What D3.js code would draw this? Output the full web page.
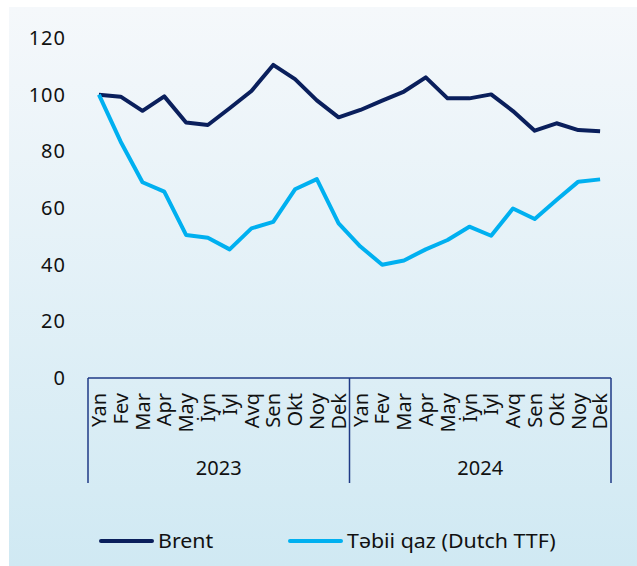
<!DOCTYPE html>
<html>
<head>
<meta charset="utf-8">
<script src="https://cdn.jsdelivr.net/npm/d3@7"></script>
<style>
  html, body { margin: 0; padding: 0; background: #fff; }
  svg { display: block; font-family: "Noto Sans", "Open Sans", sans-serif; }
</style>
</head>
<body>
<svg id="chart" width="637" height="566"></svg>
<script>
// data
var months = ["Yan","Fev","Mar","Apr","May","İyn","İyl","Avq","Sen","Okt","Noy","Dek"];
var years = ["2023", "2024"];
var brent = [100, 99.3, 94.3, 99.4, 90.2, 89.3, 95.2, 101.3, 110.5, 105.5, 98, 92,
             94.6, 97.9, 101.1, 106.1, 98.7, 98.7, 100.1, 94.2, 87.3, 89.9, 87.5, 87.1];
var ttf = [100, 83.4, 69.1, 65.8, 50.5, 49.5, 45.4, 52.8, 55.1, 66.6, 70.2, 54.6,
           46.4, 40.0, 41.5, 45.4, 48.7, 53.4, 50.2, 59.8, 56.1, 62.8, 69.3, 70.1];
var yTicks = [0, 20, 40, 60, 80, 100, 120];
var seriesNames = ["Brent", "Təbii qaz (Dutch TTF)"];
var colors = ["#0a1f5c", "#00b0f0"];

var svg = d3.select("#chart");
var fontSize = 20;

// panel background
var defs = svg.append("defs");
var grad = defs.append("linearGradient").attr("id", "bg")
    .attr("x1", 0).attr("y1", 0).attr("x2", 0).attr("y2", 1);
grad.append("stop").attr("offset", "0%").attr("stop-color", "#f5f8fb");
grad.append("stop").attr("offset", "100%").attr("stop-color", "#d0e9f3");
svg.append("rect").attr("x", 9).attr("y", 7).attr("width", 628).attr("height", 559)
    .attr("fill", "url(#bg)");

// categories: year + month
var cats = [];
years.forEach(function(y){ months.forEach(function(m){ cats.push(y + "-" + m); }); });

var x = d3.scaleBand().domain(cats).range([88, 611]);
var y = d3.scaleLinear().domain([0, 120]).range([378, 38]);
var cx = function(i){ return x(cats[i]) + x.bandwidth() / 2; };

// y axis labels
var yAxis = svg.append("g").attr("transform", "translate(66,0)")
    .call(d3.axisLeft(y).tickValues(yTicks).tickSize(0).tickPadding(0));
yAxis.select(".domain").remove();
yAxis.selectAll("text").attr("font-size", fontSize).attr("fill", "#111")
    .attr("font-family", "Noto Sans").attr("letter-spacing", 1);

// x axis box
var axisColor = "#1f3a86";
var xAxis = svg.append("g").attr("transform", "translate(0,378)")
    .call(d3.axisBottom(x).tickSize(0).tickFormat(function(d){ return d.split("-")[1]; }));
xAxis.select(".domain").attr("stroke", axisColor).attr("stroke-width", 1.5)
    .attr("d", "M88,0H611");
xAxis.selectAll("text")
    .attr("font-size", fontSize).attr("fill", "#111").attr("font-family", "Noto Sans")
    .attr("text-anchor", "end").attr("dy", "0.36em")
    .attr("transform", "translate(0,15) rotate(-90)")
    .attr("y", 0).attr("x", 0);

// group separators
var bounds = [x(cats[0]), x(cats[12]), x(cats[23]) + x.bandwidth()];
svg.selectAll(".sep").data(bounds).enter().append("line")
    .attr("x1", function(d){ return d; }).attr("x2", function(d){ return d; })
    .attr("y1", 378).attr("y2", 483)
    .attr("stroke", axisColor).attr("stroke-width", 1.5);

svg.selectAll(".year").data(years).enter().append("text")
    .attr("x", function(d, i){ return (bounds[i] + bounds[i + 1]) / 2; })
    .attr("y", 475).attr("text-anchor", "middle")
    .attr("font-size", fontSize).attr("fill", "#111")
    .text(function(d){ return d; });

// lines
var line = d3.line().x(function(d, i){ return cx(i); }).y(function(d){ return y(d); });
[brent, ttf].forEach(function(s, k){
    svg.append("path").datum(s).attr("d", line)
        .attr("fill", "none").attr("stroke", colors[k]).attr("stroke-width", 4)
        .attr("stroke-linejoin", "round").attr("stroke-linecap", "butt");
});

// legend
var legendX = [101, 290];
seriesNames.forEach(function(name, k){
    var g = svg.append("g").attr("transform", "translate(" + legendX[k] + ",541)");
    g.append("line").attr("x1", 0).attr("x2", 51).attr("y1", 0).attr("y2", 0)
        .attr("stroke", colors[k]).attr("stroke-width", 4).attr("stroke-linecap", "round");
    g.append("text").attr("x", 57).attr("y", 0).attr("dy", "0.36em")
        .attr("transform", "translate(57,0) scale(1.07,1) translate(-57,0)")
        .attr("font-size", fontSize).attr("fill", "#111").text(name);
});
</script>
</body>
</html>
